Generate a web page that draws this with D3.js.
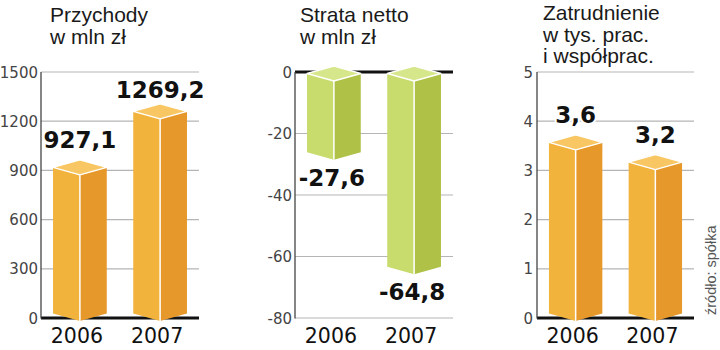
<!DOCTYPE html>
<html><head><meta charset="utf-8">
<script src="https://cdn.jsdelivr.net/npm/d3@7"></script>
<style>body{margin:0;background:#fff}svg{display:block}</style>
</head><body>
<svg id="c" width="720" height="350"></svg>
<script>
const categories = ["2006", "2007"];
const revenue = [927.1, 1269.2];
const netLoss = [-27.6, -64.8];
const employment = [3.6, 3.2];
const revenueTicks = [0, 300, 600, 900, 1200, 1500];
const lossTicks = [0, -20, -40, -60, -80];
const employmentTicks = [0, 1, 2, 3, 4, 5];
const titles = [["Przychody", "w mln zł"], ["Strata netto", "w mln zł"], ["Zatrudnienie", "w tys. prac.", "i współprac."]];
const sourceText = "źródło: spółka";

const fmt = v => String(v).replace(".", ",");
const orange = {left: "#F2B33D", right: "#E6982B", top: "#F8C763"};
const green = {left: "#C8DB6D", right: "#B0C148", top: "#D6E68B"};

const svg = d3.select("#c");
const TITLE_FONT = "'Liberation Sans', Arial, sans-serif";
const NUM_FONT = "'DejaVu Sans', sans-serif";

const panels = [
  {x0: 41, x1: 199, values: revenue, ticks: revenueTicks, domain: [0, 1500], col: orange, title: titles[0], tickRight: 38},
  {x0: 295, x1: 453, values: netLoss, ticks: lossTicks, domain: [-80, 0], col: green, title: titles[1], tickRight: 292},
  {x0: 537, x1: 694, values: employment, ticks: employmentTicks, domain: [0, 5], col: orange, title: titles[2], tickRight: 533}
];

const yTop = 72, yBot = 318, d = 7.5;

panels.forEach((p, pi) => {
  const g = svg.append("g");
  const y = d3.scaleLinear().domain(p.domain).range([yBot, yTop]);
  const x = d3.scaleBand().domain(categories).range([p.x0, p.x1]).paddingInner(0.33).paddingOuter(0.15);

  // title
  const tt = g.append("text").attr("x", p.x0 + (pi === 0 ? 9 : 5)).attr("y", 21)
    .attr("font-family", TITLE_FONT).attr("font-size", 21).attr("fill", "#1a1a1a");
  p.title.forEach((line, i) => tt.append("tspan").attr("x", p.x0 + (pi === 0 ? 9 : (pi === 1 ? 5 : 6))).attr("y", (pi === 2 ? 20 : 22) + i * 21.5).text(line));

  // gridlines
  g.selectAll("line.grid").data(p.ticks.filter(t => t !== 0)).enter().append("line")
    .attr("x1", p.x0).attr("x2", p.x1).attr("y1", d => y(d)).attr("y2", d => y(d))
    .attr("stroke", "#b5b5b5").attr("stroke-width", 1.2);
  // zero line
  g.append("line").attr("x1", p.x0).attr("x2", p.x1).attr("y1", y(0)).attr("y2", y(0))
    .attr("stroke", "#111").attr("stroke-width", 3);
  // axis
  g.append("line").attr("x1", p.x0).attr("x2", p.x0).attr("y1", yTop).attr("y2", yBot + 0.5)
    .attr("stroke", "#444").attr("stroke-width", 1.3);

  // tick labels
  g.selectAll("text.tick").data(p.ticks).enter().append("text")
    .attr("x", p.tickRight).attr("y", d => y(d) + 5.5).attr("text-anchor", "end")
    .attr("font-family", NUM_FONT).attr("font-size", 15).attr("fill", "#444")
    .text(d => d);

  // bars
  p.values.forEach((v, i) => {
    const bx0 = x(categories[i]), bx1 = bx0 + x.bandwidth(), bm = (bx0 + bx1) / 2;
    const top = Math.min(y(v), y(0)), bot = Math.max(y(v), y(0));
    const ts = top + 1.5, bs = bot - 4.5;
    const pts = a => a.map(q => q.join(",")).join(" ");
    g.append("polygon").attr("points", pts([[bx0, ts], [bm, ts + d], [bm, bs + d], [bx0, bs]])).attr("fill", p.col.left);
    g.append("polygon").attr("points", pts([[bm, ts + d], [bx1, ts], [bx1, bs], [bm, bs + d]])).attr("fill", p.col.right);
    g.append("polygon").attr("points", pts([[bx0, ts], [bm, ts - d], [bx1, ts], [bm, ts + d]]))
      .attr("fill", p.col.top).attr("stroke", "#fff").attr("stroke-width", 1.3).attr("stroke-linejoin", "round");
    g.append("line").attr("x1", bm).attr("x2", bm).attr("y1", ts + d).attr("y2", bs + d)
      .attr("stroke", "#fff").attr("stroke-width", 1.5);

    // value label
    let ly, lx = bm;
    if (v >= 0) { ly = Math.max(y(v) - 18, yTop + 26); }
    else { ly = y(v) + 29; lx = bm - 2; }
    g.append("text").attr("x", lx).attr("y", ly).attr("text-anchor", "middle")
      .attr("font-family", NUM_FONT).attr("font-weight", "bold").attr("font-size", 23)
      .attr("fill", "#111").attr("stroke", "#fff").attr("stroke-width", 4).attr("paint-order", "stroke")
      .text(fmt(v));

    // category label
    g.append("text").attr("x", bm - 3).attr("y", 343).attr("text-anchor", "middle")
      .attr("font-family", NUM_FONT).attr("font-size", 20.5).attr("fill", "#111")
      .text(categories[i]);
  });
});

svg.append("text").attr("transform", "translate(716,315) rotate(-90)")
  .attr("font-family", TITLE_FONT).attr("font-size", 14.5).attr("fill", "#555")
  .text(sourceText);
</script>
</body></html>
